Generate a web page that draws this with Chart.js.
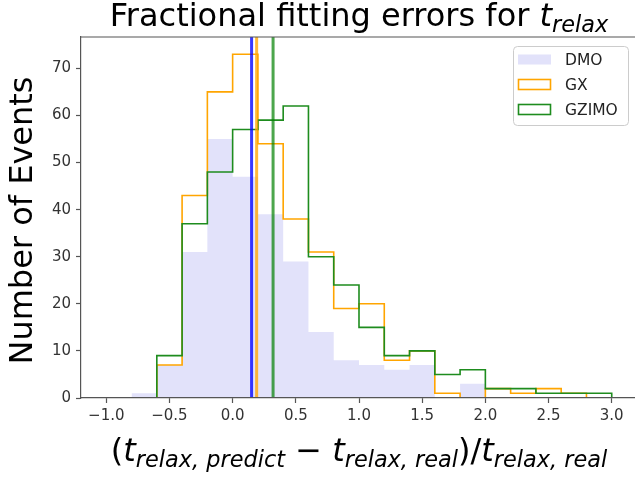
<!DOCTYPE html>
<html>
<head>
<meta charset="utf-8">
<script src="https://cdn.jsdelivr.net/npm/chart.js@4.4.0/dist/chart.umd.min.js"></script>
<style>
  html, body { margin: 0; padding: 0; background: #fff; overflow: hidden; }
  #wrap { width: 635px; height: 477px; overflow: hidden; }
  #canvas { display: block; }
</style>
</head>
<body>
<div id="wrap"><canvas id="canvas" width="641" height="477"></canvas></div>
<script>
// histogram bins (width 0.2) and counts per sample
var binEdges = [-1.0, -0.8, -0.6, -0.4, -0.2, 0.0, 0.2, 0.4, 0.6, 0.8, 1.0,
                1.2, 1.4, 1.6, 1.8, 2.0, 2.2, 2.4, 2.6, 2.8, 3.0];
var dmoCounts   = [0, 1, 7, 31, 55, 47, 39, 29, 14, 8, 7, 6, 7, 0, 3, 0, 0, 0, 0, 0];
var gxCounts    = [0, 0, 7, 43, 65, 73, 54, 38, 31, 19, 20, 8, 10, 1, 0, 2, 1, 2, 1, 0];
var gzimoCounts = [0, 0, 9, 37, 48, 57, 59, 62, 30, 24, 15, 9, 10, 5, 6, 2, 2, 1, 1, 1];
var seriesNames = ['DMO', 'GX', 'GZIMO'];
// medians drawn as vertical lines (DMO, GX, GZIMO)
var medianValues = [0.15, 0.19, 0.32];

var xTickValues = [-1.0, -0.5, 0.0, 0.5, 1.0, 1.5, 2.0, 2.5, 3.0];
var yTickValues = [0, 10, 20, 30, 40, 50, 60, 70];
var xMin = -1.2, xMax = 3.2, yMax = 76.65;

var FONT = '"DejaVu Sans", sans-serif';

// outline of a step histogram, leading/trailing empty bins dropped
function stepPoints(counts) {
    var first = 0, last = counts.length - 1;
    while (first < last && counts[first] == 0) first++;
    while (last > first && counts[last] == 0) last--;
    var pts = [{ x: binEdges[first], y: 0 }];
    for (var i = first; i <= last; i++) {
        pts.push({ x: binEdges[i], y: counts[i] });
    }
    pts.push({ x: binEdges[last + 1], y: 0 });
    return pts;
}

function vline(x) {
    return [{ x: x, y: 0 }, { x: x, y: yMax }];
}

// draws text made of pieces (normal / italic / subscript), centred on cx
function drawRuns(ctx, runs, cx, baseY) {
    var total = 0;
    runs.forEach(function (r) {
        ctx.font = (r.it ? 'italic ' : '') + r.size + 'px ' + FONT;
        r.w = ctx.measureText(r.t).width;
        total += r.w;
    });
    var x = cx - total / 2;
    ctx.textAlign = 'left';
    ctx.textBaseline = 'alphabetic';
    runs.forEach(function (r) {
        ctx.font = (r.it ? 'italic ' : '') + r.size + 'px ' + FONT;
        ctx.fillText(r.t, x, baseY + (r.dy || 0));
        x += r.w;
    });
}

var MAIN = 32, SUB = 22.4, SUBDY = 6;
function tRelax(sub) {
    return [{ t: 't', size: MAIN, it: true }, { t: sub, size: SUB, it: true, dy: SUBDY }];
}

var decorations = {
    id: 'decorations',
    afterDraw: function (chart) {
        var ctx = chart.ctx;
        var area = chart.chartArea;
        var cx = (area.left + area.right) / 2;
        ctx.save();

        // top spine
        ctx.strokeStyle = '#555';
        ctx.lineWidth = 1.2;
        ctx.beginPath();
        ctx.moveTo(area.left, area.top);
        ctx.lineTo(area.right, area.top);
        ctx.stroke();

        ctx.fillStyle = '#000';
        // title
        drawRuns(ctx, [{ t: 'Fractional fitting errors for ', size: MAIN }]
            .concat(tRelax('relax')), cx, 26);

        // x axis label
        var xl = [{ t: '(', size: MAIN }]
            .concat(tRelax('relax, predict'))
            .concat([{ t: ' \u2212 ', size: MAIN }])
            .concat(tRelax('relax, real'))
            .concat([{ t: ')/', size: MAIN }])
            .concat(tRelax('relax, real'));
        drawRuns(ctx, xl, cx, 461);

        // y axis label
        ctx.save();
        ctx.translate(31.5, (area.top + area.bottom) / 2 + 3);
        ctx.rotate(-Math.PI / 2);
        ctx.font = MAIN + 'px ' + FONT;
        ctx.textAlign = 'center';
        ctx.textBaseline = 'alphabetic';
        ctx.fillText('Number of Events', 0, 0);
        ctx.restore();

        // legend box
        var bx = 513, by = 46, bw = 115, bh = 79, r = 4;
        ctx.fillStyle = 'rgba(255,255,255,0.8)';
        ctx.strokeStyle = '#cccccc';
        ctx.lineWidth = 1;
        ctx.beginPath();
        ctx.roundRect(bx + 0.5, by + 0.5, bw, bh, r);
        ctx.fill();
        ctx.stroke();

        ctx.font = '15.5px ' + FONT;
        ctx.textAlign = 'left';
        ctx.textBaseline = 'middle';
        for (var i = 0; i < 3; i++) {
            var ds = chart.data.datasets[i];
            var ry = 59.5 + i * 25;
            if (i == 0) {
                ctx.fillStyle = ds.backgroundColor;
                ctx.fillRect(518, ry - 5, 33, 10);
            } else {
                ctx.strokeStyle = ds.borderColor;
                ctx.lineWidth = 1.6;
                ctx.strokeRect(518.5, ry - 5, 32, 10);
            }
            ctx.fillStyle = '#222';
            ctx.fillText(ds.label, 565, ry + 1);
        }
        ctx.restore();
    }
};

var ctx = document.getElementById('canvas');
var myChart = new Chart(ctx, {
    type: 'line',
    data: {
        datasets: [{
            label: seriesNames[0],
            data: stepPoints(dmoCounts),
            stepped: true,
            borderWidth: 0,
            borderColor: 'rgba(0,0,0,0)',
            backgroundColor: 'rgb(226,226,250)',
            fill: 'origin',
            pointRadius: 0,
            order: 10
        }, {
            label: seriesNames[1],
            data: stepPoints(gxCounts),
            stepped: true,
            borderWidth: 1.6,
            borderColor: '#ffa500',
            fill: false,
            pointRadius: 0,
            order: 9
        }, {
            label: seriesNames[2],
            data: stepPoints(gzimoCounts),
            stepped: true,
            borderWidth: 1.6,
            borderColor: '#1e8c1e',
            fill: false,
            pointRadius: 0,
            order: 8
        }, {
            label: 'DMO median',
            data: vline(medianValues[0]),
            borderWidth: 3,
            borderColor: 'rgba(0,0,255,0.78)',
            pointRadius: 0,
            order: 7
        }, {
            label: 'GX median',
            data: vline(medianValues[1]),
            borderWidth: 3,
            borderColor: 'rgba(255,165,0,0.78)',
            pointRadius: 0,
            order: 6
        }, {
            label: 'GZIMO median',
            data: vline(medianValues[2]),
            borderWidth: 3,
            borderColor: 'rgba(0,128,0,0.7)',
            pointRadius: 0,
            order: 5
        }]
    },
    options: {
        responsive: false,
        animation: false,
        layout: { padding: { left: 0, top: 37, right: 4, bottom: 0 } },
        plugins: {
            legend: { display: false },
            tooltip: { enabled: false }
        },
        scales: {
            x: {
                type: 'linear',
                min: xMin,
                max: xMax,
                afterBuildTicks: function (axis) {
                    axis.ticks = xTickValues.map(function (v) { return { value: v }; });
                },
                afterFit: function (scale) { scale.height = 79; },
                grid: { drawOnChartArea: false, tickLength: 5, color: '#555', tickWidth: 1.2 },
                border: { display: true, color: '#555', width: 1.2, z: 1 },
                ticks: {
                    padding: 4,
                    maxRotation: 0,
                    color: '#333',
                    font: { family: FONT, size: 15 },
                    callback: function (v) { return v.toFixed(1).replace('-', '\u2212'); }
                }
            },
            y: {
                min: 0,
                max: yMax,
                afterBuildTicks: function (axis) {
                    axis.ticks = yTickValues.map(function (v) { return { value: v }; });
                },
                afterFit: function (scale) { scale.width = 81; },
                grid: { drawOnChartArea: false, tickLength: 5, color: '#555', tickWidth: 1.2 },
                border: { display: true, color: '#555', width: 1.2, z: 1 },
                ticks: {
                    padding: 5,
                    color: '#333',
                    font: { family: FONT, size: 15 },
                    callback: function (v) { return v; }
                }
            }
        }
    },
    plugins: [decorations]
});
</script>
</body>
</html>
